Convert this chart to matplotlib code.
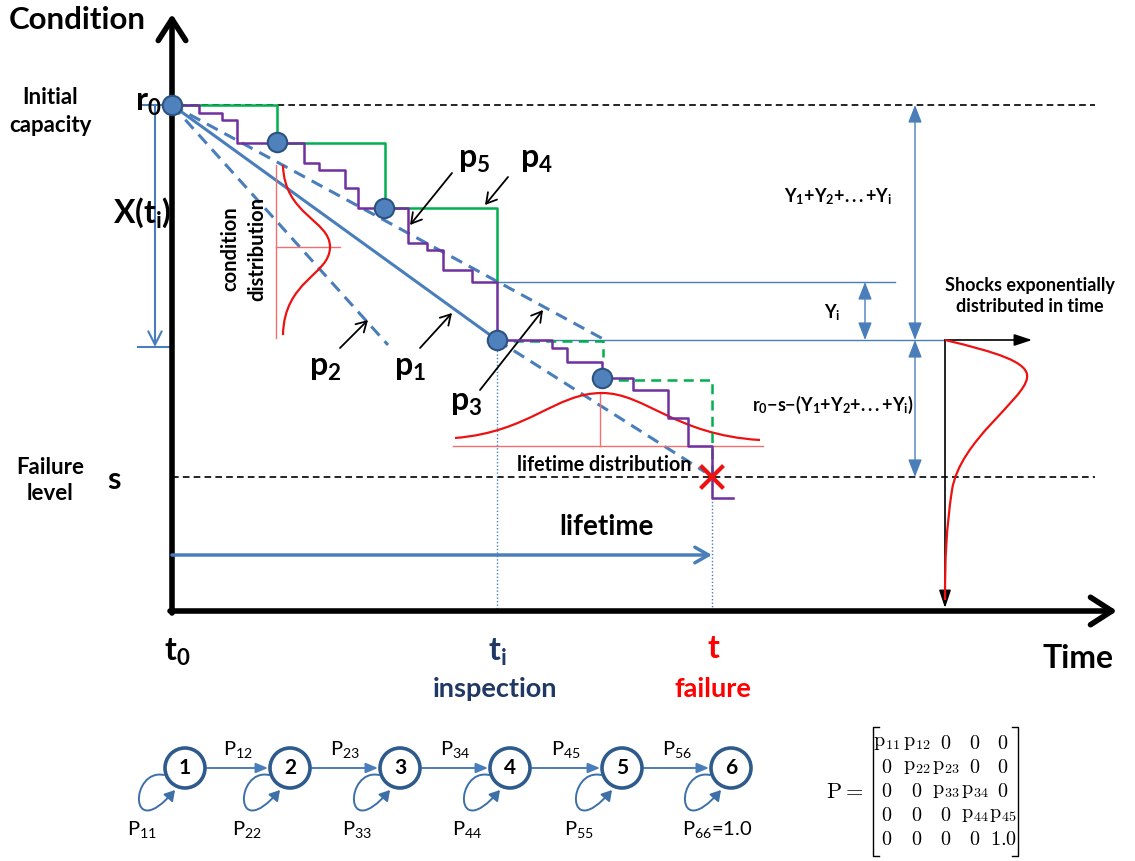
import matplotlib.pyplot as plt
from matplotlib.path import Path
from matplotlib.patches import PathPatch, Circle, FancyArrowPatch

plt.rcParams['font.family'] = ['Lato', 'DejaVu Sans']
plt.rcParams['mathtext.fontset'] = 'custom'
plt.rcParams['mathtext.rm'] = 'Lato'
plt.rcParams['mathtext.it'] = 'Lato:italic'
plt.rcParams['mathtext.bf'] = 'Lato:bold'

# ---- diagram data (pixel space, y grows downward) ----
t0_x, ti_x, tf_x = 172, 497, 712
r0_y, yi_y, xi_y, s_y = 105, 282, 340, 477
axis_y = 611

# inspection points on the condition path
insp_x = [172, 277, 384, 497, 602]
insp_y = [105, 142, 208, 340, 378]

# purple degradation path (shocks)
path_x = [172, 199, 199, 222, 222, 237, 237, 304, 304, 319, 319, 345, 345, 358, 358,
          408, 408, 427, 427, 443, 443, 472, 472, 497, 497, 552, 552, 567, 567, 602,
          602, 633, 633, 668, 668, 688, 688, 712, 712, 733]
path_y = [105, 105, 113, 113, 120, 120, 143, 143, 163, 163, 170, 170, 188, 188, 208,
          208, 243, 243, 250, 250, 270, 270, 282, 282, 340, 340, 348, 348, 362, 362,
          378, 378, 390, 390, 418, 418, 446, 446, 498, 498]

# green inspection-interval steps (solid known, dashed predicted)
green_solid = [([172, 277, 277], [105, 105, 142]),
               ([277, 385, 385], [143, 143, 208]),
               ([384, 497, 497], [208, 208, 282])]
green_dash = [([497, 603, 603], [341, 341, 357]),
              ([602, 712, 712], [380, 380, 477])]

# trend lines p1..p4
p1_line = ([172, 497], [105, 340])
p2_line = ([172, 388], [105, 345])
p4_line = ([172, 605], [105, 340])
p3_line = ([497, 705], [340, 472])

# markov chain
states = ['1', '2', '3', '4', '5', '6']
state_x = [185, 290, 400, 510, 622, 731]
state_y = 768
trans_labels = ['12', '23', '34', '45', '56']
self_labels = [r'$\mathrm{P}_{11}$', r'$\mathrm{P}_{22}$', r'$\mathrm{P}_{33}$',
               r'$\mathrm{P}_{44}$', r'$\mathrm{P}_{55}$', r'$\mathrm{P}_{66}$=1.0']

# transition matrix
matrix = [[r'p_{11}', r'p_{12}', '0', '0', '0'],
          ['0', r'p_{22}', r'p_{23}', '0', '0'],
          ['0', '0', r'p_{33}', r'p_{34}', '0'],
          ['0', '0', '0', r'p_{44}', r'p_{45}'],
          ['0', '0', '0', '0', '1.0']]
mat_cols = [887, 917, 946, 975, 1003]
mat_rows = [743, 767, 791, 815, 839]

BLUE = '#4a7ebb'
NAVY = '#1f3864'
RED = '#ee1111'
PINK = '#f07070'
PURPLE = '#7030a0'
GREEN = '#00b050'

fig = plt.figure(figsize=(11.35, 8.61), dpi=100)
ax = fig.add_axes([0, 0, 1, 1])
ax.set_xlim(0, 1135)
ax.set_ylim(861, 0)
ax.axis('off')


def arrow(x0, y0, x1, y1, color='black', lw=1.3, style='->', hl=0.6, hw=0.35, ms=12, z=3):
    ax.annotate('', xy=(x1, y1), xytext=(x0, y0),
                arrowprops=dict(arrowstyle=f'{style},head_length={hl},head_width={hw}',
                                color=color, lw=lw, shrinkA=0, shrinkB=0,
                                mutation_scale=ms), zorder=z)


def bez(points, color, lw, z=2):
    codes = [Path.MOVETO] + [Path.CURVE4] * (len(points) - 1)
    ax.add_patch(PathPatch(Path(points, codes), fc='none', ec=color, lw=lw, zorder=z))


# axes
arrow(t0_x, axis_y + 2, t0_x, 14, lw=4, hl=0.7, hw=0.45, ms=22)
arrow(t0_x - 2, axis_y, 1117, axis_y, lw=4, hl=0.7, hw=0.45, ms=22)

# reference dashed levels
ax.plot([180, 1095], [r0_y, r0_y], color='black', lw=1.2, ls=(0, (4, 2.5)), zorder=1)
ax.plot([172, 1095], [s_y, s_y], color='black', lw=1.2, ls=(0, (4, 2.5)), zorder=1)

# thin blue level lines
ax.plot([ti_x, 895], [yi_y, yi_y], color=BLUE, lw=1.0, zorder=1)
ax.plot([ti_x, 945], [xi_y, xi_y], color=BLUE, lw=1.0, zorder=1)

# dotted inspection/failure verticals
ax.plot([ti_x, ti_x], [xi_y, axis_y], color=BLUE, lw=1.0, ls=(0, (1, 1.5)), zorder=1)
ax.plot([tf_x, tf_x], [s_y, axis_y], color=BLUE, lw=1.0, ls=(0, (1, 1.5)), zorder=1)

# trend lines
ax.plot(*p1_line, color=BLUE, lw=2.2, zorder=2)
for ln in (p2_line, p4_line, p3_line):
    ax.plot(*ln, color=BLUE, lw=2.2, ls=(0, (4, 2.5)), zorder=2)

# green steps and purple path
for xs, ys in green_solid:
    ax.plot(xs, ys, color=GREEN, lw=1.8, zorder=3)
for xs, ys in green_dash:
    ax.plot(xs, ys, color=GREEN, lw=1.8, ls=(0, (4, 2.5)), zorder=3)
ax.plot(path_x, path_y, color=PURPLE, lw=1.8, zorder=4)

# inspection markers
ax.plot(insp_x, insp_y, 'o', ms=14, mfc='#4f81bd', mec='#2c5282', mew=1.5, zorder=6)

# condition distribution
ax.plot([276, 276], [165, 338], color=PINK, lw=1.0, zorder=2)
ax.plot([276, 340], [247, 247], color=PINK, lw=1.0, zorder=2)
bez([(283, 165), (284, 215), (330, 220), (330, 247),
     (330, 275), (284, 280), (283, 335)], RED, 1.6)
ax.text(230, 249, 'condition', rotation=90, ha='center', va='center',
        fontsize=14.5, fontweight='bold')
ax.text(257, 249, 'distribution', rotation=90, ha='center', va='center',
        fontsize=14.5, fontweight='bold')

# lifetime distribution
ax.plot([453, 763], [446, 446], color=PINK, lw=1.0, zorder=2)
ax.plot([600, 600], [393, 446], color=PINK, lw=1.0, zorder=2)
bez([(455, 438), (530, 432), (555, 393), (602, 393),
     (645, 393), (675, 435), (760, 440)], RED, 1.6)
ax.text(604, 465, 'lifetime distribution', ha='center', va='center',
        fontsize=14.2, fontweight='bold')

# failure cross
ax.plot([702, 722], [467, 487], color=RED, lw=3, zorder=7)
ax.plot([702, 722], [487, 467], color=RED, lw=3, zorder=7)

# X(ti) arrow
ax.plot([140, 172], [r0_y, r0_y], color=BLUE, lw=1.5)
ax.plot([138, 172], [347, 347], color=BLUE, lw=1.5)
arrow(155, r0_y, 155, 347, color=BLUE, lw=1.5, hl=0.8, hw=0.4)

# lifetime arrow
arrow(172, 555, tf_x, 555, color=BLUE, lw=2.5, hl=0.7, hw=0.4, ms=14)
ax.text(606, 527, 'lifetime', ha='center', va='center', fontsize=20, fontweight='bold')

# right hand dimension arrows
arrow(915, xi_y, 915, r0_y, color=BLUE, lw=1.0, style='<|-|>', hl=0.9, hw=0.35)
arrow(915, s_y, 915, xi_y, color=BLUE, lw=1.0, style='<|-|>', hl=0.9, hw=0.35)
arrow(865, xi_y, 865, yi_y, color=BLUE, lw=1.0, style='<|-|>', hl=0.9, hw=0.35)

ax.text(838, 197, r'$\mathbf{Y}_\mathbf{1}\mathbf{{+}Y}_\mathbf{2}\mathbf{{+}...{+}Y}_\mathbf{i}$',
        ha='center', va='center', fontsize=13)
ax.text(832, 313, r'$\mathbf{Y}_\mathbf{i}$', ha='center', va='center', fontsize=13)
ax.text(833, 405, r'$\mathbf{r}_\mathbf{0}\mathbf{{-}s{-}(Y}_\mathbf{1}\mathbf{{+}Y}_\mathbf{2}\mathbf{{+}...{+}Y}_\mathbf{i}\mathbf{)}$',
        ha='center', va='center', fontsize=13)

# shocks distribution
ax.text(1030, 296, 'Shocks exponentially\ndistributed in time', ha='center', va='center',
        fontsize=13, fontweight='bold', linespacing=1.3)
arrow(945, xi_y, 945, 608, color='black', lw=1.2, style='-|>', hl=0.9, hw=0.3)
arrow(945, xi_y, 1032, xi_y, color='black', lw=1.2, style='-|>', hl=0.9, hw=0.3)
bez([(945, 340), (995, 352), (1030, 362), (1027, 378),
     (1024, 400), (960, 440), (952, 490),
     (946, 530), (945, 560), (945, 600)], RED, 1.6, z=4)

# p labels with pointers
arrow(452, 173, 410, 225)
arrow(508, 177, 485, 205)
arrow(340, 348, 368, 320)
arrow(420, 348, 452, 313)
arrow(480, 390, 543, 310)
for lab, x, y in [('5', 474, 160), ('4', 536, 160), ('2', 325, 368), ('1', 410, 368), ('3', 466, 403)]:
    ax.text(x, y, r'$\mathbf{p}_\mathbf{%s}$' % lab, ha='center', va='center', fontsize=23)

# axis annotations
ax.text(77, 20, 'Condition', ha='center', va='center', fontsize=22.5, fontweight='bold')
ax.text(1078, 658, 'Time', ha='center', va='center', fontsize=23, fontweight='bold')
ax.text(50, 97, 'Initial', ha='center', va='center', fontsize=16, fontweight='bold')
ax.text(50, 125, 'capacity', ha='center', va='center', fontsize=16, fontweight='bold')
ax.text(148, 103, r'$\mathbf{r}_\mathbf{0}$', ha='center', va='center', fontsize=23)
ax.text(142, 213, r'$\mathbf{X(t}_\mathbf{i}\mathbf{)}$', ha='center', va='center', fontsize=23)
ax.text(50, 467, 'Failure', ha='center', va='center', fontsize=16, fontweight='bold')
ax.text(50, 494, 'level', ha='center', va='center', fontsize=16, fontweight='bold')
ax.text(114, 480, 's', ha='center', va='center', fontsize=22, fontweight='bold')
ax.text(177, 652, r'$\mathbf{t}_\mathbf{0}$', ha='center', va='center', fontsize=23)
ax.text(497, 652, r'$\mathbf{t}_\mathbf{i}$', ha='center', va='center', fontsize=23, color=NAVY)
ax.text(495, 689, 'inspection', ha='center', va='center', fontsize=19.5, fontweight='bold', color=NAVY)
ax.text(713, 648, 't', ha='center', va='center', fontsize=23, fontweight='bold', color='red')
ax.text(713, 689, 'failure', ha='center', va='center', fontsize=19.5, fontweight='bold', color='red')

# markov chain
for i, (lab, x) in enumerate(zip(states, state_x)):
    ax.add_patch(Circle((x, state_y), 20, fc='white', ec='#2e5b8c', lw=2.6, zorder=5))
    ax.text(x, state_y, lab, ha='center', va='center', fontsize=15, fontweight='bold', zorder=6)
    loop = Path([(x - 21, state_y + 7), (x - 55, state_y), (x - 57, state_y + 77), (x - 10, state_y + 22)],
                [Path.MOVETO, Path.CURVE4, Path.CURVE4, Path.CURVE4])
    ax.add_patch(FancyArrowPatch(path=loop, arrowstyle='-|>,head_length=0.5,head_width=0.3',
                                 mutation_scale=12, color='#3d6fa8', lw=1.4, zorder=4))
    ax.text(x - 43 if i < 5 else x - 14, 830, self_labels[i], ha='center', va='center', fontsize=14.5)
    if i < 5:
        nx = state_x[i + 1]
        arrow(x + 22, state_y, nx - 22, state_y, color=BLUE, lw=1.4, style='-|>', hl=0.6, hw=0.25)
        ax.text((x + nx) / 2, 750, r'$\mathrm{P}_{%s}$' % trans_labels[i], ha='center',
                va='center', fontsize=14.5)

# transition matrix
ax.text(845, 792, r'$\mathrm{P} =$', ha='center', va='center', fontsize=16, math_fontfamily='cm')
for r, row in enumerate(matrix):
    for c, val in enumerate(row):
        ax.text(mat_cols[c], mat_rows[r], r'$\mathrm{%s}$' % val, ha='center', va='center',
                fontsize=14.5, math_fontfamily='cm')
ax.plot([879, 873, 873, 879], [727, 727, 856, 856], color='black', lw=1.0)
ax.plot([1012, 1018, 1018, 1012], [727, 727, 856, 856], color='black', lw=1.0)

fig.savefig('out.png', dpi=100)
